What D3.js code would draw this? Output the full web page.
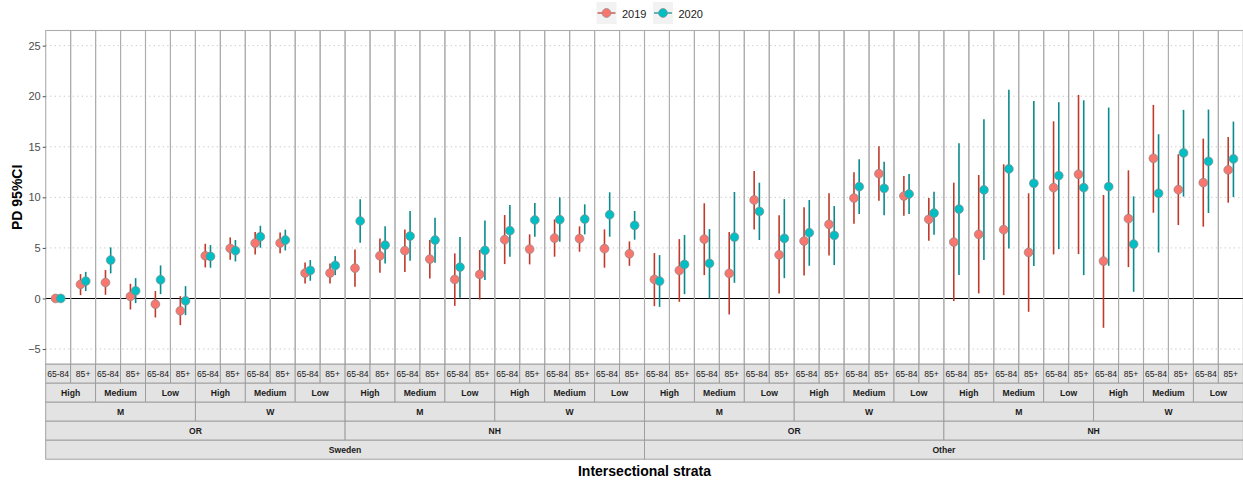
<!DOCTYPE html>
<html><head><meta charset="utf-8">
<script src="https://cdn.jsdelivr.net/npm/d3@7"></script>
<style>body{margin:0;background:#fff}svg{display:block;font-family:"Liberation Sans",Arial,sans-serif}</style>
</head><body>
<svg id="c" width="1243" height="484"></svg>
<script>
// ---- data ----
const countries = ["Sweden","Other"];
const regions = ["OR","NH"];
const sexes = ["M","W"];
const ses = ["High","Medium","Low"];
const ages = ["65-84","85+"];
const years = ["2019","2020"];
const yTicks = [-5,0,5,10,15,20,25];

const est2019 = [0,1.39,1.58,0.2,-0.56,-1.22, 4.22,4.95,5.48,5.48,2.51,2.51,
  3.0,4.22,4.73,3.89,1.88,2.38, 5.81,4.88,5.97,5.91,4.92,4.42,
  1.88,2.77,5.87,2.48,9.74,4.32, 5.68,7.33,9.93,12.34,10.13,7.82,
  5.58,6.34,6.80,4.55,10.96,12.28, 3.70,7.89,13.86,10.76,11.45,12.71];
const lo2019 = [0,0.33,0.36,-1.09,-1.88,-2.64, 3.07,3.83,4.36,4.46,1.49,1.49,
  1.16,2.54,2.62,1.98,-0.73,-0.1, 3.40,3.37,4.13,4.62,3.04,3.23,
  -0.76,-0.33,2.31,-1.58,6.83,0.5, 2.28,4.26,7.39,9.67,8.18,5.71,
  -0.26,0.5,0.33,-1.32,4.36,4.39, -2.90,3.10,8.48,7.26,7.10,9.47];
const hi2019 = [0,2.41,2.81,1.45,0.73,0.23, 5.41,6.04,6.57,6.53,3.56,3.47,
  4.85,5.94,6.83,5.78,4.46,4.79, 8.25,6.34,7.82,7.13,6.83,5.64,
  4.49,5.87,9.41,6.57,12.6,8.22, 9.01,10.4,12.48,15.05,12.11,9.93,
  11.45,12.21,13.27,10.40,17.52,20.13, 10.23,12.67,19.14,14.26,15.81,15.97];
const est2020 = [0,1.72,3.80,0.76,1.85,-0.23, 4.16,4.72,6.11,5.78,2.77,3.27,
  7.66,5.28,6.17,5.78,3.10,4.75, 6.70,7.76,7.79,7.85,8.28,7.23,
  1.72,3.37,3.47,6.07,8.61,5.94, 6.50,6.24,11.06,10.89,10.33,8.45,
  8.84,10.73,12.81,11.39,12.15,10.96, 11.06,5.38,10.40,14.39,13.56,13.80];
const lo2020 = [0,0.73,2.48,-0.46,0.43,-1.65, 3.04,3.66,5.02,4.75,1.75,2.31,
  5.51,3.47,3.72,3.53,0.07,1.82, 4.13,6.11,5.61,6.34,6.11,5.81,
  -0.83,0.43,0.0,1.55,5.78,2.01, 3.23,3.30,8.35,8.22,8.35,6.30,
  2.31,3.80,4.95,3.20,4.88,2.31, 3.23,0.66,4.55,10.07,8.45,10.03];
const hi2020 = [0,2.63,5.05,2.01,3.27,1.22, 5.28,5.78,7.19,6.80,3.80,4.19,
  9.80,7.13,8.65,7.99,6.07,7.72, 9.24,9.44,10.0,9.31,10.5,8.65,
  4.29,6.27,6.86,10.53,11.45,9.83, 9.74,9.14,13.76,13.53,12.31,10.56,
  15.35,17.72,20.63,19.54,19.41,19.60, 18.88,10.10,16.24,18.65,18.68,17.49];

// ---- build strata ----
const strata = [];
countries.forEach(c=>regions.forEach(r=>sexes.forEach(s=>ses.forEach(e=>ages.forEach(a=>{
  strata.push({c,r,s,e,a,key:[c,r,s,e,a].join("|")});
})))));
const points = [];
strata.forEach((d,i)=>{
  points.push({k:d.key,year:"2019",est:est2019[i],lo:lo2019[i],hi:hi2019[i]});
  points.push({k:d.key,year:"2020",est:est2020[i],lo:lo2020[i],hi:hi2020[i]});
});

const svg = d3.select("#c");
const L=45.7, R=1243.3, T=30.5, B=364.2;
const x = d3.scaleBand().domain(strata.map(d=>d.key)).range([L,R]).padding(0);
const dodge = d3.scalePoint().domain(years).range([-2.6,2.6]);
const y = d3.scaleLinear().domain([-6.5,26.5]).range([B,T]);
const fill = d3.scaleOrdinal().domain(years).range(["#F8766D","#00BFC4"]);
const lineCol = d3.scaleOrdinal().domain(years).range(["#C1392B","#0A8A8C"]);

// gridlines
svg.append("g").selectAll("line").data(yTicks.filter(t=>t!==0)).join("line")
  .attr("x1",L).attr("x2",R).attr("y1",d=>y(d)).attr("y2",d=>y(d))
  .attr("stroke","#c8c8c8").attr("stroke-width",1).attr("stroke-dasharray","1.3,3.2");
// zero line
svg.append("line").attr("x1",L).attr("x2",R).attr("y1",y(0)).attr("y2",y(0))
  .attr("stroke","#000").attr("stroke-width",1.1);

// panel borders
svg.append("g").selectAll("rect").data(strata).join("rect")
  .attr("x",d=>x(d.key)).attr("y",T).attr("width",x.bandwidth()).attr("height",B-T)
  .attr("fill","none").attr("stroke","#adadad").attr("stroke-width",1.1);

// y axis
const yAxis = d3.axisLeft(y).tickValues(yTicks).tickSize(3).tickPadding(2);
const ga = svg.append("g").attr("transform",`translate(${L},0)`).call(yAxis);
ga.select(".domain").remove();
ga.selectAll(".tick line").attr("stroke","#4d4d4d");
ga.selectAll(".tick text").attr("fill","#4d4d4d").attr("font-size",11).attr("font-family","Liberation Sans, Arial, sans-serif");

// error bars + points
const g = svg.append("g");
g.selectAll("line.eb").data(points).join("line").attr("class","eb")
  .attr("x1",d=>x(d.k)+x.bandwidth()/2+dodge(d.year)).attr("x2",d=>x(d.k)+x.bandwidth()/2+dodge(d.year))
  .attr("y1",d=>y(d.lo)).attr("y2",d=>y(d.hi))
  .attr("stroke",d=>lineCol(d.year)).attr("stroke-width",1.6);
g.selectAll("circle").data(points).join("circle")
  .attr("cx",d=>x(d.k)+x.bandwidth()/2+dodge(d.year)).attr("cy",d=>y(d.est)).attr("r",4.4)
  .attr("fill",d=>fill(d.year)).attr("stroke","#8a8a8a").attr("stroke-width",0.7);

// strips
const rowH = 19;
const levels = [
  {f:d=>d.key, lab:d=>d.a, bold:false},
  {f:d=>[d.c,d.r,d.s,d.e].join("|"), lab:d=>d.e, bold:true},
  {f:d=>[d.c,d.r,d.s].join("|"), lab:d=>d.s, bold:true},
  {f:d=>[d.c,d.r].join("|"), lab:d=>d.r, bold:true},
  {f:d=>d.c, lab:d=>d.c, bold:true}
];
levels.forEach((lv,li)=>{
  const groups = d3.groups(strata, lv.f).map(([k,arr])=>({k,arr,lab:lv.lab(arr[0]),
    x0:x(arr[0].key), x1:x(arr[arr.length-1].key)+x.bandwidth()}));
  const y0 = B + li*rowH;
  const gg = svg.append("g");
  gg.selectAll("rect").data(groups).join("rect")
    .attr("x",d=>d.x0).attr("y",y0).attr("width",d=>d.x1-d.x0).attr("height",rowH)
    .attr("fill","#e3e3e3").attr("stroke","#9a9a9a").attr("stroke-width",0.9);
  gg.selectAll("text").data(groups).join("text")
    .attr("x",d=>(d.x0+d.x1)/2).attr("y",y0+rowH/2+3.2).attr("text-anchor","middle")
    .attr("font-size",8.6).attr("font-weight",lv.bold?"bold":"normal").attr("fill","#1a1a1a")
    .text(d=>d.lab);
});

// axis titles
svg.append("text").attr("x",(L+R)/2).attr("y",476).attr("text-anchor","middle")
  .attr("font-size",14).attr("font-weight","bold").text("Intersectional strata");
svg.append("text").attr("transform",`translate(22,${(T+B)/2}) rotate(-90)`).attr("text-anchor","middle")
  .attr("font-size",14).attr("font-weight","bold").text("PD 95%CI");

// legend
const lg = svg.append("g");
const keys = [{yr:"2019",x:596.5},{yr:"2020",x:653}];
keys.forEach(k=>{
  lg.append("rect").attr("x",k.x).attr("y",2).attr("width",20).attr("height",22).attr("fill","#f2f2f2");
  lg.append("line").attr("x1",k.x+1).attr("x2",k.x+19).attr("y1",13).attr("y2",13)
    .attr("stroke",lineCol(k.yr)).attr("stroke-width",1.2);
  lg.append("circle").attr("cx",k.x+10).attr("cy",13).attr("r",4.4)
    .attr("fill",fill(k.yr)).attr("stroke","#8a8a8a").attr("stroke-width",0.7);
  lg.append("text").attr("x",k.x+25.5).attr("y",17.5).attr("font-size",11).attr("fill","#1a1a1a").text(k.yr);
});
</script>
</body></html>
